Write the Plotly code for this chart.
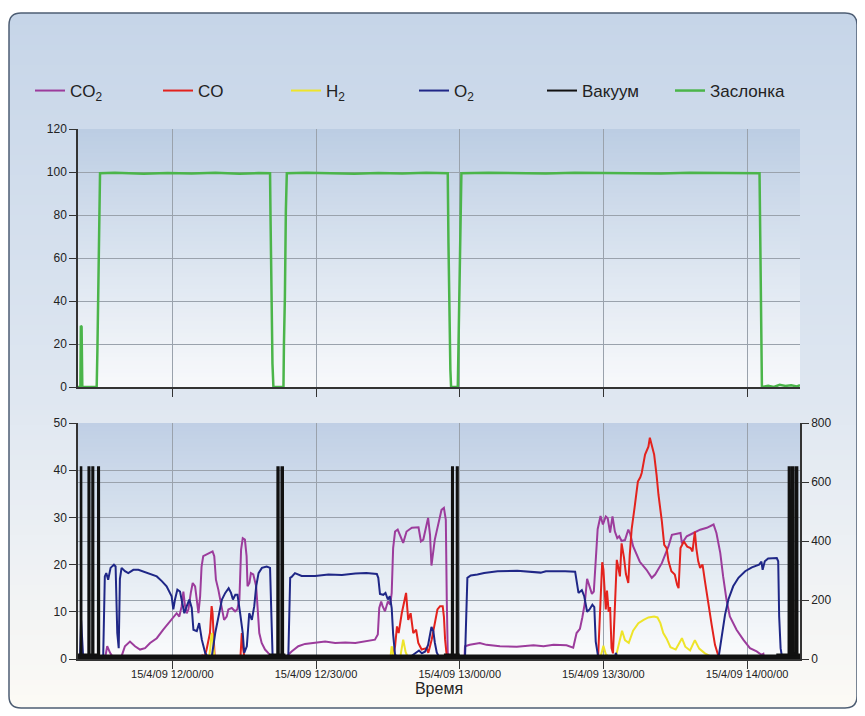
import plotly.graph_objects as go
from datetime import datetime, timedelta

# ---------------- DATA (time = minutes relative to 15/4/09 12:00:00) ----------------
x_range_min = [-19.7, 131.05]

valve_t = [-19.7, -19.2, -19.1, -18.95, -18.8, -15.8, -15.65, -15.45, -15.25, -15.1,
           -12, -6, -1, 4, 9, 14, 18, 20.4, 20.5, 20.65, 20.9, 21.1,
           23.2, 23.3, 23.5, 23.7, 23.9, 28, 33, 38, 43, 48, 53, 57.5,
           57.65, 57.85, 58.05, 58.2, 59.6, 59.75, 59.95, 60.2, 60.35,
           66, 72, 78, 84, 90, 96, 102, 108, 114, 119, 122.6,
           122.75, 122.95, 123.1, 124.4, 125.6, 126.8, 128, 129.2, 130.4, 131.05]
valve_v = [0, 0, 28.5, 28, 0, 0, 17, 53, 87, 99.4,
           99.6, 99.2, 99.5, 99.3, 99.6, 99.2, 99.5, 99.4, 79, 42, 11, 0,
           0, 20, 42, 82, 99.4, 99.6, 99.5, 99.2, 99.5, 99.3, 99.6, 99.4,
           67, 28, 8, 0, 0, 20, 51, 90, 99.4,
           99.6, 99.5, 99.3, 99.6, 99.4, 99.5, 99.3, 99.6, 99.4, 99.5, 99.4,
           70, 36, 0, 0.6, 0, 1, 0.5, 0.8, 0.3, 0.8]

co2_t = [-14.4, -14.05, -13.6, -13.0, -12.3, -10.9, -10.6, -9.9, -8.85, -7.8,
         -6.75, -5.7, -4.65, -3.25, -1.9, -0.5, 0.2, 0.9, 1.45, 1.95,
         2.3, 2.65, 3.0, 3.35, 3.85, 4.25, 4.75, 5.1, 5.45, 5.8,
         6.1, 6.45, 7.15, 7.85, 8.4, 8.75, 9.1, 9.6, 10.3, 10.8,
         11.35, 11.7, 12.4, 13.1, 13.55, 14.0, 14.35, 14.7, 15.15, 15.5,
         15.7, 16.1, 16.4, 16.9, 17.5, 17.75, 18.15, 18.65, 19.35, 20.0,
         20.75, None, 24.0, 24.2, 24.9, 26.3, 27.7, 29.8, 31.9, 34.0, 36.1,
         38.2, 40.3, 42.3, 42.9, 43.2, 43.6, 43.9, 44.4, 45.0, 45.5,
         45.8, 46.1, 46.5, 47.05, 47.5, 48.2, 48.9, 50.0, 51.4, 51.9,
         52.4, 53.1, 53.4, 53.8, 54.1, 54.8, 55.5, 56.2, 56.7, 57.1,
         57.3, 57.5, 57.8, None, 61.0, 61.1, 62.1, 64.2, 65.6, 68.4, 71.9,
         75.4, 77.5, 79.6, 82.3, 83.7, 84.4, 85.1, 85.6, 86.1, 86.6,
         87.1, 87.6, 88.0, 88.4, 88.8, 89.4, 89.9, 90.5, 90.9, 91.4,
         91.9, 92.4, 92.9, 93.3, 93.8, 94.5, 95.2, 95.6, 96.2, 97.6,
         99.0, 100.1, 100.8, 102.2, 103.6, 104.3, 106.1, 106.4, 107.4, 108.8,
         110.2, 111.6, 113.0, 113.6, 114.4, 115.0, 115.7, 116.4, 117.8, 119.2,
         120.6, 122.0, 123.0, 123.4, 123.6]
co2_v = [0, 0.2, 2.7, 1.3, 0.2, 0.2, 0.6, 2.7, 3.7, 2.7,
         2, 2.3, 3.4, 4.4, 6.2, 8, 9, 9.7, 9, 11.2,
         14.3, 11.2, 9.7, 10.5, 14, 16.1, 15.4, 12.9, 9.7, 13.3,
         19.6, 21.8, 22.1, 22.5, 22.8, 21.8, 16.8, 14.7, 10.5, 8.3,
         9, 10.5, 10.8, 10.1, 10.5, 12.6, 23.2, 25.6, 25.3, 21.8,
         15.4, 16.1, 18.2, 17.9, 15.4, 10.5, 5.5, 3.4, 2, 1.3,
         0.2, None, 0, 0.9, 1.6, 2.7, 3.2, 3.4, 3.7, 3.4, 3.5,
         3.4, 3.7, 4.1, 5.2, 10.8, 12.2, 11.2, 10.1, 12.2, 11.5,
         14, 23.5, 27, 27.4, 26.3, 24.6, 27, 27.8, 27.9, 24.9,
         25.3, 28.5, 29.9, 26.3, 19.8, 25.3, 28.8, 31.6, 32, 29.5,
         12.6, 1.3, 0, None, 0, 2.7, 3.0, 3.4, 3.0, 2.7, 2.6,
         2.9, 2.7, 3.0, 2.9, 2.4, 5.5, 6.4, 8.8, 11.7, 17.0,
         15.2, 13.8, 14.3, 20.5, 27.5, 30.3, 28.5, 30.2, 29.8, 26.8,
         30.2, 27, 25.6, 26, 25, 25.2, 27.4, 26.5, 23.9, 20.6,
         18.9, 17.2, 17.9, 20.3, 23.9, 26.3, 26.7, 24.5, 26, 26.7,
         27.4, 27.8, 28.5, 26.7, 22.5, 17.5, 12.6, 9, 6.2, 4.1,
         2.3, 1.6, 0.9, 1.1, 0]

co_t = [6.0, 6.3, 6.6, 7.15, 7.85, 8.2, 8.4, 8.65, 8.85, None,
        14.2, 14.5, 14.8, 15.1, None,
        45.9, 46.5, 46.9, 47.25, 47.9, 48.8, 49.25, 49.75, 50.3, 50.9,
        51.35, 52.05, 53.1, 53.45, 54.15, 54.85, 55.35, 55.9, 56.45, 56.7,
        56.95, 57.3, 57.5, None,
        88.9, 89.2, 89.5, 89.75, 90.0, 90.3, 90.5, 90.75, 91.1, 91.4,
        91.7, 92.0, 92.4, 92.8, 93.1, 93.45, 93.8, 94.3, 94.7, 95.2,
        95.5, 95.9, 96.5, 97.2, 97.7, 98.0, 98.7, 99.4, 99.7, 100.1,
        100.6, 101.1, 101.5, 102.2, 102.7, 103.2, 103.6, 104.2, 104.9, 105.4,
        105.7, 106.1, 106.8, 107.5, 108.2, 108.6, 109.1, 109.4, 109.8, 110.2,
        110.7, 111.2, 111.9, 112.6, 113.3, 114.0, 114.2]
co_v = [0, 0.9, 0, 2, 5.5, 11.2, 9.7, 2.7, 0, None,
        0, 5.5, 2, 0, None,
        0, 2.7, 6.9, 5.5, 9.7, 14, 8.3, 9.7, 5.5, 6.2,
        3.4, 2, 2.3, 1.3, 4.1, 8.3, 10.5, 11.2, 11.2, 9,
        4.1, 0.6, 0, None,
        0.5, 6.6, 15.5, 20.5, 19, 14.5, 10.5, 14.5, 10, 11,
        2.3, 1.2, 12.2, 21, 19.5, 17.5, 24.5, 21.5, 18, 16.1,
        22, 27.5, 32, 37.6, 38.5, 39.4, 43.3, 45, 46.9, 45.4,
        43.3, 39, 34.8, 29.2, 24.2, 23.5, 20.7, 18.6, 17.9, 15.7,
        15, 23.5, 24.9, 23.8, 23.5, 22.8, 27, 23.5, 20.7, 19.3,
        20, 16.5, 11.5, 7.3, 3, 0.6, 0]

h2_t = [7.6, 7.9, 8.1, 8.3, 8.55, 8.8, None,
        45.5, 45.8, 46.2, 47.6, 48.2, 48.7, 49.3, None,
        89.3, 90.0, 90.5, 91.3, 92.6, 93.3, 93.9, 94.5, 95.3, 96.2,
        97.3, 98.4, 99.4, 100.6, 101.3, 101.9, 102.5, 103.2, 104.0, 105.1,
        106.4, 107.1, 108.1, 109.1, 110.0, 111.2, 112.5, 113.5, 120.0, 127.0,
        127.3]
h2_v = [0, 2, 4.5, 5.5, 3, 0, None,
        0, 2.7, 0.5, 0.5, 4.1, 1.5, 0, None,
        0, 2.8, 1, 0.3, 0.5, 3.5, 6, 4, 3.4, 6,
        7.6, 8.3, 8.8, 9.0, 8.8, 7.6, 5.5, 4.3, 2.5, 2,
        4.4, 2.6, 1.8, 4.0, 2.2, 1.2, 0.5, 0.3, 0.3, 0.3,
        0]

o2_t = [-19.7, -19.3, -19.05, -18.8, -18.6, -14.45, -14.1, -13.8, -13.4, -12.9,
        -12.2, -11.85, -11.5, -11.2, -10.95, -10.6, -9.9, -9.2, -8.15, -7.1,
        -6.05, -4.65, -3.25, -2.2, -1.2, -0.15, 0.2, 0.55, 1.05, 1.6,
        2.1, 2.5, 3.0, 3.55, 4.05, 4.4, 5.1, 5.6, 6.15, 6.85,
        7.5, 8.25, 8.95, 9.6, 10.35, 11.05, 11.75, 12.25, 12.65, 13.15,
        13.6, 14.15, 14.7, 15.0, 15.55, 16.05, 16.6, 17.1, 17.5, 18.0,
        18.7, 19.7, 20.4, 20.75, 20.95, 24.2, 24.6, 24.9, 25.6, 27.0,
        29.8, 32.6, 35.4, 38.2, 40.5, 42.7, 43.0, 43.35, 44.05, 44.5,
        45.0, 45.4, 45.8, 46.1, 46.5, 47.2, 49.5, 51.5, 52.1, 52.8,
        53.4, 54.1, 54.5, 54.8, 55.2, 55.9, 61.1, 61.6, 62.3, 63.7,
        65.1, 67.9, 72.0, 76.9, 78.0, 82.0, 84.1, 84.8, 85.5, 86.0,
        86.6, 87.1, 87.7, 88.1, 88.4, 88.9, 92.4, 92.6, 92.9, 114.0,
        114.7, 115.4, 116.1, 117.1, 118.2, 119.6, 121.0, 122.5, 123.0, 123.25,
        123.7, 124.4, 126.2, 126.5, 126.7, 127.0, 127.35, 131.05]
o2_v = [0, 0, 8.2, 3, 0, 0, 17.5, 18.2, 16.8, 19.3,
        20, 19.6, 5.5, 2.3, 17, 19.3, 18.6, 18.2, 18.9, 18.9,
        18.5, 17.9, 17.5, 16.5, 15.4, 13.3, 10.5, 12.6, 14.7, 14.3,
        11.9, 9.7, 11.2, 12.6, 10.8, 6.2, 5.9, 7.6, 4.1, 1.3,
        0.2, 0.6, 5.5, 9, 12.6, 14, 15, 14, 12.6, 13.6,
        13.6, 9.7, 5.5, 1.3, 2.7, 9.7, 8.3, 11.2, 15.4, 18.2,
        19.3, 19.6, 19.3, 6.9, 0, 0, 17.2, 17.4, 18.2, 17.6,
        17.6, 17.9, 17.8, 18.1, 18.2, 18, 17.2, 13.8, 13.6, 14,
        12.6, 13.3, 10.8, 5.2, 0.9, 0.2, 0.3, 1.8, 1.2, 1.6,
        3, 6.8, 5.9, 3.5, 1.4, 0, 0, 17.2, 17.7, 17.9,
        18.2, 18.6, 18.7, 18.3, 18.6, 18.6, 18.5, 14, 14.6, 13.3,
        10, 10.5, 11.5, 11, 3.7, 0.5, 0.3, 1.3, 0.2, 0,
        5.2, 9.4, 12.6, 15.4, 17.2, 18.6, 19.4, 20, 20.6, 18.9,
        20.7, 21.3, 21.4, 20.7, 9, 2.3, 0, 0]

vac_t = [-19.7, -19.15, -19.12, -19.0, -18.97, -17.55, -17.52, -17.3, -17.27, -16.75,
         -16.72, -16.5, -16.47, -15.55, -15.52, -15.3, -15.27, -15.1, None,
         20.2, 21.9, 21.93, 22.2, 22.23, 22.75, 22.78, 23.1, 23.13, 23.6, None,
         56.7, 58.35, 58.38, 58.6, 58.63, 59.35, 59.38, 59.6, 59.63, 60.0, None,
         126.1, 128.65, 128.68, 128.95, 128.98, 129.35, 129.38, 129.7, 129.73, 130.15,
         130.18, 130.5, 130.53, 131.05]
vac_v = [15, 15, 650, 650, 15, 15, 650, 650, 15, 15,
         650, 650, 15, 15, 650, 650, 15, 15, None,
         15, 15, 650, 650, 15, 15, 650, 650, 15, 15, None,
         15, 15, 650, 650, 15, 15, 650, 650, 15, 15, None,
         15, 15, 650, 650, 15, 15, 650, 650, 15, 15,
         650, 650, 15, 15]

series_names = ["CO<sub>2</sub>", "CO", "H<sub>2</sub>", "O<sub>2</sub>", "Вакуум", "Заслонка"]
series_colors = ["#9c3c9c", "#e3221d", "#eee42a", "#1f2787", "#111111", "#4bb54a"]
x_title = "Время"

# ---------------- helpers ----------------
BASE = datetime(2009, 4, 15, 12, 0, 0)


def to_time(mins):
    return [None if m is None else (BASE + timedelta(minutes=m)).isoformat(sep=" ", timespec="milliseconds")
            for m in mins]


OFF = 8                      # page offset of the figure inside the browser window
W, H = 865 - OFF, 716 - OFF
SX0, SY0, SX1, SY1 = 78, 129, 800, 659     # plot block in screen px
ML, MT = SX0 - OFF, SY0 - OFF
MR, MB = W - (SX1 - OFF), H - (SY1 - OFF)
PW, PH = W - ML - MR, H - MT - MB


def px(x, y):
    """screen pixel -> paper coords"""
    return (x - OFF - ML) / PW, (H - MB - (y - OFF)) / PH


def hex2rgb(h):
    h = h.lstrip("#")
    return tuple(int(h[i:i + 2], 16) for i in (0, 2, 4))


def color_at(stops, y):
    for (y0, c0), (y1, c1) in zip(stops[:-1], stops[1:]):
        if y0 <= y <= y1:
            f = (y - y0) / (y1 - y0) if y1 > y0 else 0
            a, b = hex2rgb(c0), hex2rgb(c1)
            return "rgb(%d,%d,%d)" % tuple(round(a[i] + (b[i] - a[i]) * f) for i in range(3))
    return stops[-1][1] if y > stops[-1][0] else stops[0][1]


shapes = []


def band_fill(x0, x1, ytop, ybot, stops, step=4):
    y = ytop
    while y < ybot:
        y2 = min(y + step, ybot)
        c = color_at(stops, (y + y2) / 2)
        a0, b0 = px(x0, y2 + 0.5)
        a1, b1 = px(x1, y)
        shapes.append(dict(type="rect", xref="paper", yref="paper", x0=a0, x1=a1, y0=b0, y1=b1,
                           fillcolor=c, line=dict(width=0), layer="below"))
        y = y2


def rounded_path(x0, y0, x1, y1, r, top=True, bottom=True):
    def P(x, y):
        a, b = px(x, y)
        return "%.5f,%.5f" % (a, b)
    d = ""
    if top:
        d += "M%s L%s Q%s %s " % (P(x0 + r, y0), P(x1 - r, y0), P(x1, y0), P(x1, y0 + r))
    else:
        d += "M%s L%s " % (P(x0, y0), P(x1, y0))
    if bottom:
        d += "L%s Q%s %s L%s Q%s %s " % (P(x1, y1 - r), P(x1, y1), P(x1 - r, y1), P(x0 + r, y1), P(x0, y1), P(x0, y1 - r))
    else:
        d += "L%s L%s " % (P(x1, y1), P(x0, y1))
    if top:
        d += "L%s Q%s %s Z" % (P(x0, y0 + r), P(x0, y0), P(x0 + r, y0))
    else:
        d += "Z"
    return d


# page gradient inside rounded frame
FX0, FY0, FX1, FY1, R = 9, 13, 857, 708, 12
page_stops = [(13, "#c6d5e8"), (400, "#dfe7f1"), (560, "#eef1f4"), (708, "#fcfaf5")]
shapes.append(dict(type="path", xref="paper", yref="paper",
                   path=rounded_path(FX0, FY0, FX1, FY0 + R + 1, R, top=True, bottom=False),
                   fillcolor=page_stops[0][1], line=dict(width=0), layer="below"))
band_fill(FX0, FX1, FY0 + R, FY1 - R, page_stops, step=5)
shapes.append(dict(type="path", xref="paper", yref="paper",
                   path=rounded_path(FX0, FY1 - R - 1, FX1, FY1, R, top=False, bottom=True),
                   fillcolor=page_stops[-1][1], line=dict(width=0), layer="below"))

# plot-area gradients
band_fill(SX0, SX1, 129, 387, [(129, "#bccde3"), (250, "#d9e3ef"), (387, "#f8f9fb")], step=4)
band_fill(SX0, SX1, 423, 659, [(423, "#bfcfe5"), (540, "#dde6f0"), (659, "#fafbfc")], step=4)

# frame outline
shapes.append(dict(type="path", xref="paper", yref="paper",
                   path=rounded_path(FX0, FY0, FX1, FY1, R),
                   line=dict(color="#4d5d73", width=1.5), fillcolor="rgba(0,0,0,0)", layer="below"))

# ---------------- traces ----------------
fig = go.Figure()
line_w = 2
fig.add_trace(go.Scatter(x=to_time(co2_t), y=co2_v, name=series_names[0], mode="lines",
                         line=dict(color=series_colors[0], width=line_w), xaxis="x2", yaxis="y2"))
fig.add_trace(go.Scatter(x=to_time(co_t), y=co_v, name=series_names[1], mode="lines",
                         line=dict(color=series_colors[1], width=line_w), xaxis="x2", yaxis="y2"))
fig.add_trace(go.Scatter(x=to_time(h2_t), y=h2_v, name=series_names[2], mode="lines",
                         line=dict(color=series_colors[2], width=line_w), xaxis="x2", yaxis="y2"))
fig.add_trace(go.Scatter(x=to_time(o2_t), y=o2_v, name=series_names[3], mode="lines",
                         line=dict(color=series_colors[3], width=line_w), xaxis="x2", yaxis="y2"))
# vacuum: filled blocks (no legend entry) + line with legend entry
fig.add_trace(go.Scatter(x=to_time(vac_t), y=vac_v, name=series_names[4], mode="lines",
                         line=dict(color=series_colors[4], width=0), fill="tozeroy",
                         fillcolor=series_colors[4], showlegend=False, hoverinfo="skip",
                         xaxis="x2", yaxis="y3"))
fig.add_trace(go.Scatter(x=to_time(vac_t), y=vac_v, name=series_names[4], mode="lines",
                         line=dict(color=series_colors[4], width=2), xaxis="x2", yaxis="y3"))
fig.add_trace(go.Scatter(x=to_time(valve_t), y=valve_v, name=series_names[5], mode="lines",
                         line=dict(color=series_colors[5], width=2.5), xaxis="x", yaxis="y"))

GRID = "#9aa2ac"
AX = "#333333"
rng = to_time(x_range_min)
TICKFONT = dict(family="Liberation Sans Narrow, Liberation Sans, Arial, sans-serif", size=11, color="#222")
common_x = dict(type="date", range=rng, tick0="2009-04-15 12:00:00", dtick=1800000,
                showgrid=True, gridcolor=GRID, gridwidth=1, ticks="outside", ticklen=8,
                tickcolor=AX, tickwidth=1.2, showline=True, linecolor=AX, linewidth=1.5,
                zeroline=False)
common_y = dict(showgrid=True, gridcolor=GRID, gridwidth=1, ticks="outside", ticklen=7,
                tickcolor=AX, tickwidth=1.2, showline=True, linecolor=AX, linewidth=1.5,
                zeroline=False, tickfont=dict(size=12, color="#222"))

top_dom = [(SY1 - 387) / PH, 1.0]
bot_dom = [0.0, (SY1 - 423) / PH]

fig.update_layout(
    width=W, height=H,
    margin=dict(l=ML, r=MR, t=MT, b=MB, autoexpand=False),
    paper_bgcolor="white", plot_bgcolor="rgba(0,0,0,0)",
    font=dict(family="Liberation Sans, Arial, sans-serif", color="#222"),
    shapes=shapes,
    showlegend=True,
    legend=dict(orientation="h", x=px(30, 0)[0], y=px(0, 91)[1], xanchor="left", yanchor="middle",
                font=dict(size=17, color="#222"), entrywidth=83, entrywidthmode="pixels",
                bgcolor="rgba(0,0,0,0)", traceorder="normal"),
    xaxis=dict(domain=[0, 1], anchor="y", showticklabels=False, **common_x),
    xaxis2=dict(domain=[0, 1], anchor="y2", showticklabels=True,
                tickformat="%-d/%-m/%y %H/%M/%S", tickfont=TICKFONT, ticklabelstandoff=-4,
                title=dict(text=x_title, font=dict(size=16, color="#222"), standoff=0),
                **common_x),
    yaxis=dict(domain=top_dom, anchor="x", range=[0, 120], tick0=0, dtick=20, **common_y),
    yaxis2=dict(domain=bot_dom, anchor="x2", range=[0, 50], tick0=0, dtick=10, **common_y),
    yaxis3=dict(overlaying="y2", anchor="x2", side="right", range=[0, 800], tick0=0, dtick=200, **common_y),
)

fig.write_html("out.html")
